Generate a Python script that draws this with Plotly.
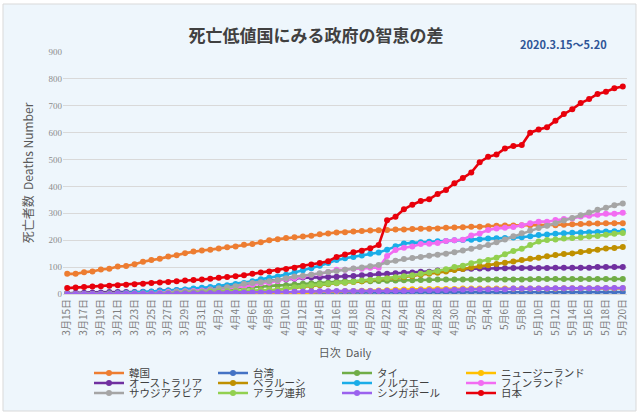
import plotly.graph_objects as go

dates = ["3月15日","3月16日","3月17日","3月18日","3月19日","3月20日","3月21日","3月22日","3月23日","3月24日",
         "3月25日","3月26日","3月27日","3月28日","3月29日","3月30日","3月31日",
         "4月1日","4月2日","4月3日","4月4日","4月5日","4月6日","4月7日","4月8日","4月9日","4月10日",
         "4月11日","4月12日","4月13日","4月14日","4月15日","4月16日","4月17日","4月18日","4月19日","4月20日",
         "4月21日","4月22日","4月23日","4月24日","4月25日","4月26日","4月27日","4月28日","4月29日","4月30日",
         "5月1日","5月2日","5月3日","5月4日","5月5日","5月6日","5月7日","5月8日","5月9日","5月10日",
         "5月11日","5月12日","5月13日","5月14日","5月15日","5月16日","5月17日","5月18日","5月19日","5月20日"]

tick_labels = ["3月15日","3月17日","3月19日","3月21日","3月23日","3月25日","3月27日","3月29日","3月31日",
               "4月2日","4月4日","4月6日","4月8日","4月10日","4月12日","4月14日","4月16日","4月18日","4月20日",
               "4月22日","4月24日","4月26日","4月28日","4月30日","5月2日","5月4日","5月6日","5月8日","5月10日",
               "5月12日","5月14日","5月16日","5月18日","5月20日"]

korea = [75,75,81,84,91,94,102,104,111,120, 126,131,139,144,152,158,162,165,169,174,
         177,183,186,192,200,204,208,211,214,217, 222,225,229,230,232,234,236,237,238,240,
         240,242,243,243,244,246,247,248,250,250, 252,254,255,255,256,256,256,256,256,258,
         259,260,262,262,263,263,263]
taiwan = [1,1,1,1,1,2,2,2,2,2, 2,2,2,2,2,2,5,5,5,5, 5,5,5,5,5,5,5,6,6,6,
          6,6,6,6,6,6,6,6,6,6, 6,6,6,6,6,6,6,6,6,6, 6,6,6,6,6,6,7,7,7,7,
          7,7,7,7,7,7,7]
thailand = [1,1,1,1,1,1,1,1,1,4, 4,4,5,6,6,7,7,12,15,19, 20,23,26,27,30,32,33,35,38,40,
            41,43,46,47,47,47,47,48,49,50, 51,51,52,52,54,54,54,54,54,54, 54,54,54,54,54,55,56,56,56,56,
            56,56,56,56,56,56,56]
newzealand = [0,0,0,0,0,0,0,0,0,0, 0,0,0,0,1,1,1,1,1,1, 1,1,1,1,1,1,2,4,4,5,
              9,9,9,11,11,12,12,13,14,16, 17,18,18,19,19,19,19,20,20,20, 20,20,20,20,20,20,20,20,20,21,
              21,21,21,21,21,21,21]
australia = [3,5,5,6,6,7,7,7,7,8, 8,13,13,14,16,18,19,23,24,28, 30,34,37,45,50,51,54,57,61,61,
             62,63,64,66,67,70,71,74,75,77, 79,80,83,83,87,89,91,93,94,95, 95,96,96,97,97,97,97,97,98,98,
             98,98,98,100,100,100,100]
belarus = [0,0,0,0,0,0,0,0,0,0, 0,0,0,0,0,0,1,1,2,4, 4,5,8,13,13,16,19,23,26,29,
           33,36,40,42,45,47,51,55,58,60, 63,67,72,75,79,84,89,93,99,103, 107,112,116,121,126,131,135,140,145,149,
           151,156,160,165,169,171,175]
norway = [0,0,0,0,1,2,3,4,6,7, 9,11,13,15,17,20,23,26,30,33, 37,41,47,55,60,65,72,80,88,96,
          105,115,126,133,138,143,150,154,165,178, 188,190,192,194,196,197,200,201,202,204,
          206,207,208,210,211,215,219,221,224,226, 228,229,230,231,232,233,234]
finland = [0,0,0,0,0,0,1,1,1,1, 3,5,7,9,10,11,13,17,19,20, 25,28,34,40,42,48,56,59,64,72,
           75,82,90,90,94,94,98,98,141,164, 172,177,186,187,190,197,200,202,218,225,
           238,244,246,249,256,263,269,269,275,279, 281,288,291,295,298,298,302]
saudi = [0,0,0,0,0,0,0,0,0,1, 2,3,4,8,8,8,10,16,21,25, 29,38,41,44,47,52,59,65,68,72,
         77,82,86,90,95,99,103,108,118,124, 130,134,138,142,146,150,155,162,168,175,
         182,192,203,215,226,236,245,254,263,273, 283,293,303,313,321,330,337]
uae = [0,0,0,0,0,2,2,2,2,2, 2,2,3,3,5,5,6,8,9,10, 11,12,12,14,16,16,20,25,28,33,
       35,38,41,43,46,50,52,56,58,62, 66,70,75,80,86,92,100,105,114,121,
       126,135,148,160,168,182,195,201,203,206, 208,210,214,216,220,224,227]
singapore = [0,0,0,0,0,0,2,2,2,2, 2,2,2,2,3,3,3,4,5,5, 6,6,6,6,6,7,7,8,9,10,
             10,10,11,11,11,11,11,11,12,12, 12,12,14,14,14,15,16,17,18,18,
             18,18,18,20,20,20,20,20,21,21, 21,21,21,21,22,22,22]
japan = [22,24,26,28,29,31,33,34,36,38, 41,43,45,47,50,52,54,57,60,63,
         66,70,75,80,84,88,93,98,104,110, 115,122,138,147,155,161,170,182,274,287,
         315,332,346,352,372,387,412,431,452,490, 510,519,541,550,554,600,612,620,644,669,
         687,710,725,744,752,765,772]

series_names = ["韓国","台湾","タイ","ニュージーランド","オーストラリア","ベラルーシ",
                "ノルウエー","フィンランド","サウジアラビア","アラブ連邦","シンガポール","日本"]
series_values = [korea, taiwan, thailand, newzealand, australia, belarus,
                 norway, finland, saudi, uae, singapore, japan]
series_colors = ["#ED7D31","#4472C4","#70AD47","#FFC000","#7030A0","#BF9000",
                 "#1AADE8","#F26CF2","#A5A5A5","#92D050","#9B62EE","#E8000B"]

W, H = 640, 415
L, R, T, B = 63, 13, 52, 121
pw, ph = W - L - R, H - T - B

def px(xp):
    return (xp - L) / pw

def py(yp):
    return (H - B - yp) / ph

jp = "Noto Sans CJK JP"
legend_ids = ["legend", "legend2", "legend3"]
legend_rows_y = [373, 383, 393]

fig = go.Figure()
for i, (name, vals, col) in enumerate(zip(series_names, series_values, series_colors)):
    fig.add_trace(go.Scatter(
        x=dates, y=vals, name=name, mode="lines+markers",
        line=dict(color=col, width=2.6),
        marker=dict(color=col, size=6),
        legend=legend_ids[i // 4],
    ))

def legend_cfg(yrow):
    return dict(orientation="h", x=px(89), xanchor="left", y=py(yrow), yanchor="middle",
                entrywidth=79, entrywidthmode="pixels",
                font=dict(family=jp, size=10.5, color="#404040"),
                bgcolor="rgba(0,0,0,0)", itemwidth=30, borderwidth=0)

fig.update_layout(
    width=W, height=H,
    margin=dict(l=L, r=R, t=T, b=B, autoexpand=False),
    paper_bgcolor="white",
    plot_bgcolor="rgba(0,0,0,0)",
    font=dict(family=jp, color="#595959"),
    title=dict(text="<b>死亡低値国にみる政府の智恵の差</b>", x=316 / W, xref="container",
               xanchor="center", y=1 - 36 / H, yref="container", yanchor="middle",
               font=dict(family=jp, size=17, color="#404040")),
    showlegend=True,
    legend=legend_cfg(legend_rows_y[0]),
    legend2=legend_cfg(legend_rows_y[1]),
    legend3=legend_cfg(legend_rows_y[2]),
    xaxis=dict(type="category", tickmode="array", tickvals=tick_labels, ticktext=tick_labels,
               tickangle=-90, tickfont=dict(family=jp, size=10, color="#7F7F7F"),
               showgrid=False, showline=True, linecolor="#D9D9D9", ticks="", automargin=False,
               title=dict(text="日次  Daily", font=dict(family=jp, size=11, color="#595959"),
                          standoff=14),
               range=[-0.5, len(dates) - 0.5]),
    yaxis=dict(range=[0, 900], dtick=100, tickfont=dict(family="Liberation Serif", size=9, color="#8C8C8C"),
               gridcolor="#D9D9D9", gridwidth=1, zeroline=False, showline=False, ticks="",
               automargin=False,
               title=dict(text="死亡者数  Deaths Number", font=dict(family=jp, size=12, color="#595959"),
                          standoff=12)),
    shapes=[dict(type="rect", xref="paper", yref="paper",
                 x0=px(3), x1=px(636), y0=py(411), y1=py(4),
                 fillcolor="#EEF6FC", line=dict(color="#D9D9D9", width=1), layer="below")],
    annotations=[dict(text="<b>2020.3.15～5.20</b>", xref="paper", yref="paper",
                      x=px(563), y=py(44), xanchor="center", yanchor="middle", showarrow=False,
                      font=dict(family=jp, size=11, color="#2F5597"))],
)

fig.write_html("out.html", config={"displayModeBar": False},
               post_script="document.body.style.margin='0';")
